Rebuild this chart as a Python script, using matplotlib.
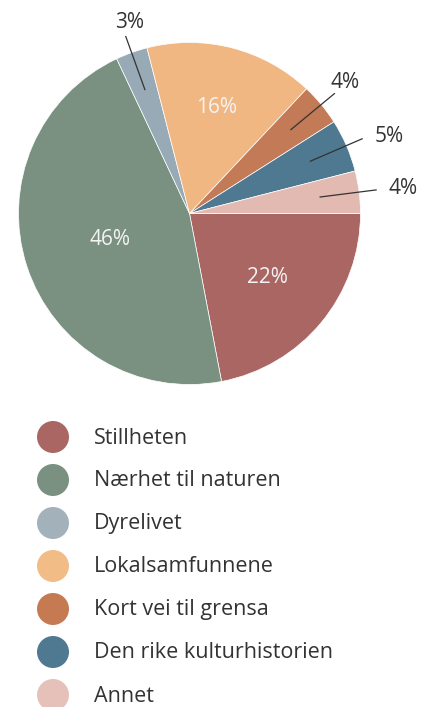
import numpy as np
import matplotlib
matplotlib.use("Agg")
import matplotlib.pyplot as plt
from matplotlib.patches import Circle

categories = ["Stillheten", "Nærhet til naturen", "Dyrelivet", "Lokalsamfunnene",
              "Kort vei til grensa", "Den rike kulturhistorien", "Annet"]
values = [22, 46, 3, 16, 4, 5, 4]
labels = ["22%", "46%", "3%", "16%", "4%", "5%", "4%"]
colors = ["#A96663", "#7A9181", "#98AAB5", "#F0B782", "#C37A57", "#4F7891", "#E3BAB1"]
legend_colors = ["#A96663", "#7A9181", "#A3B1BB", "#F2BC87", "#C67A52", "#4F7891", "#E6C1B9"]

plt.rcParams['font.family'] = ['Open Sans', 'DejaVu Sans']

W, H = 421, 707
fig = plt.figure(figsize=(W / 100, H / 100), dpi=100)
ax = fig.add_axes([0, 0, 1, 1])

cx, cy, R = 189.5, H - 213.5, 171
wedges, _ = ax.pie(values, colors=colors, startangle=0, counterclock=False,
                   center=(cx, cy), radius=R, frame=True,
                   wedgeprops=dict(linewidth=0.5, edgecolor='white'))
ax.set_xlim(0, W)
ax.set_ylim(0, H)
ax.set_aspect('equal')
ax.axis('off')

txt_dark = "#333333"
inside_r = {0: 0.59, 1: 0.49, 3: 0.64}
# (dx, dy, ha, va) text offsets from leader-line ends
outside = {2: (4, 4, 'center', 'bottom'), 4: (-4, 1, 'left', 'bottom'),
           5: (12, 2, 'left', 'center'), 6: (12, 1, 'left', 'center')}
for i, w in enumerate(wedges):
    ang = np.deg2rad((w.theta1 + w.theta2) / 2)
    ca, sa = np.cos(ang), np.sin(ang)
    if i in inside_r:
        r = inside_r[i] * R
        ax.text(cx + r * ca, cy + r * sa, labels[i], ha='center', va='center',
                color='#F4F4F4', fontsize=15)
    else:
        r0, r1 = 0.77 * R, 1.1 * R
        ax.plot([cx + r0 * ca, cx + r1 * ca], [cy + r0 * sa, cy + r1 * sa],
                color='#333333', lw=0.9)
        ox, oy, ha, va = outside[i]
        ax.text(cx + r1 * ca + ox, cy + r1 * sa + oy, labels[i], ha=ha, va=va,
                color=txt_dark, fontsize=15)

# legend
ly0, dy = H - 437, 43
for i, (cat, col) in enumerate(zip(categories, legend_colors)):
    y = ly0 - i * dy
    ax.add_patch(Circle((53, y), 16, color=col, lw=0))
    ax.text(94, y - 1, cat, ha='left', va='center', color=txt_dark, fontsize=15.5)

fig.savefig("out.png", dpi=100, facecolor='white')
